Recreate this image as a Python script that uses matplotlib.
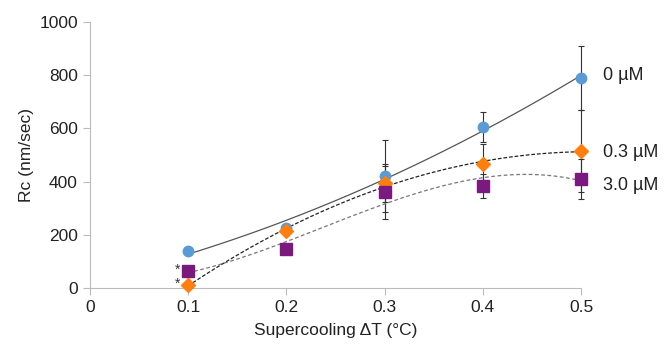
import numpy as np
import matplotlib.pyplot as plt

plt.rcParams['font.family'] = ['Liberation Sans', 'DejaVu Sans']

dT = np.array([0.1, 0.2, 0.3, 0.4, 0.5])

rc_0 = np.array([140, 225, 420, 605, 790])
err_0 = np.array([0, 0, 135, 55, 120])

rc_03 = np.array([10, 215, 395, 465, 515])
err_03 = np.array([0, 0, 70, 75, 155])

rc_30 = np.array([65, 145, 360, 385, 410])
err_30 = np.array([0, 0, 100, 45, 75])

series = [
    ('0 µM', rc_0, err_0, '#5B9BD5', 'o', 7.5, 2, '-', '#555555', 800),
    ('0.3 µM', rc_03, err_03, '#FF7F0E', 'D', 7.5, 2, (0, (3, 1.5)), '#222222', 508),
    ('3.0 µM', rc_30, err_30, '#7B1A7E', 's', 8.5, 3, (0, (3, 2)), '#777777', 387),
]

fig = plt.figure(figsize=(6.65, 3.47), dpi=100)
ax = fig.add_axes([0.135, 0.17, 0.739, 0.767])

xs = np.linspace(0.1, 0.5, 100)
for label, y, e, col, mk, ms, deg, ls, lc, ty in series:
    ax.errorbar(dT, y, yerr=e, fmt='none', ecolor='#333333', elinewidth=0.8,
                capsize=2.5, capthick=0.8, zorder=2, clip_on=False)
    coef = np.polyfit(dT, y, deg)
    ax.plot(xs, np.polyval(coef, xs), color=lc, lw=0.9, ls=ls, zorder=3)
    ax.plot(dT, y, ls='none', marker=mk, color=col, ms=ms, zorder=4, clip_on=False)
    ax.text(0.522, ty, label, fontsize=13, va='center', ha='left',
            color='#222222', clip_on=False)

# significance marks
ax.text(0.092, 70, '*', fontsize=10, ha='right', va='center', color='#333333')
ax.text(0.092, 16, '*', fontsize=10, ha='right', va='center', color='#333333')

ax.set_xlim(0, 0.5)
ax.set_ylim(0, 1000)
ax.set_xticks([0, 0.1, 0.2, 0.3, 0.4, 0.5])
ax.set_xticklabels(['0', '0.1', '0.2', '0.3', '0.4', '0.5'])
ax.set_yticks(range(0, 1001, 200))
ax.set_xlabel('Supercooling ΔT (°C)', fontsize=12.5, color='#222222', labelpad=6)
ax.set_ylabel('Rc (nm/sec)', fontsize=12.5, color='#222222')

for s in ['top', 'right']:
    ax.spines[s].set_visible(False)
for s in ['left', 'bottom']:
    ax.spines[s].set_color('#BBBBBB')
ax.tick_params(colors='#BBBBBB', labelcolor='#222222', labelsize=12.5, length=5)

plt.savefig('out.png', dpi=100)
